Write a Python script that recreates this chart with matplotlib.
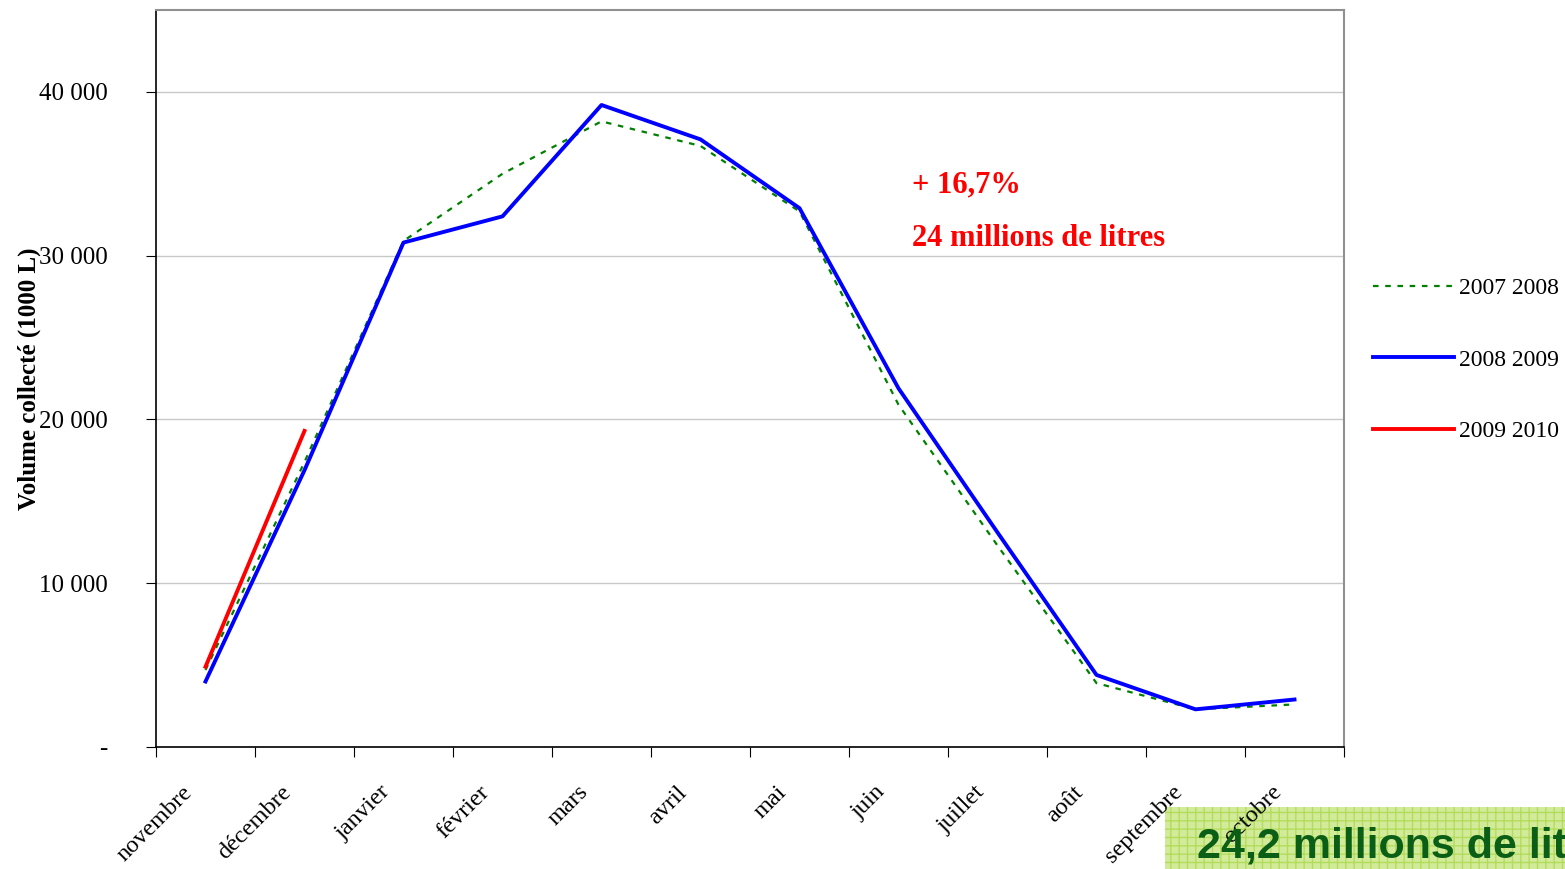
import matplotlib.pyplot as plt
from matplotlib.patches import Rectangle
from matplotlib.ticker import FuncFormatter

months = ["novembre", "décembre", "janvier", "février", "mars", "avril",
          "mai", "juin", "juillet", "août", "septembre", "octobre"]
vol_2007_2008 = [4700, 17400, 30900, 35000, 38200, 36700,
                 32700, 20900, 12300, 3900, 2300, 2600]
vol_2008_2009 = [4000, 16900, 30800, 32400, 39200, 37100,
                 32900, 21900, 13100, 4400, 2300, 2900]
vol_2009_2010 = [4900, 19300]

serif = "Liberation Serif"

fig = plt.figure(figsize=(15.65, 8.69), dpi=100)
ax = fig.add_axes([156 / 1565, 122 / 869, 1188 / 1565, 737 / 869])

x = range(len(months))
ax.plot(x, vol_2007_2008, color="#008000", lw=1.6, ls=(0, (2.5, 3)), label="2007 2008")
ax.plot(x, vol_2008_2009, color="#0000ff", lw=2.8, label="2008 2009")
ax.plot(range(len(vol_2009_2010)), vol_2009_2010, color="#ff0000", lw=2.8, label="2009 2010")

ax.set_xlim(-0.5, len(months) - 0.5)
ax.set_ylim(0, 45000)
ax.set_yticks([0, 10000, 20000, 30000, 40000])
ax.yaxis.set_major_formatter(FuncFormatter(
    lambda v, p: "-" if v == 0 else f"{int(v):,}".replace(",", " ")))
ax.grid(axis="y", color="#c8c8c8", lw=1)
ax.set_axisbelow(True)

# category boundaries carry the ticks; rotated labels end a bit left of the centers
ax.set_xticks([i - 0.5 for i in range(len(months) + 1)])
ax.set_xticklabels([])
ax.set_xticks([i - 0.24 for i in x], minor=True)
ax.set_xticklabels(months, minor=True, rotation=45, ha="right", va="top",
                   rotation_mode="anchor", fontsize=17.5, family=serif)
ax.tick_params(axis="x", which="minor", length=0, pad=25)
ax.tick_params(axis="x", which="major", length=7, direction="out", color="black")
ax.tick_params(axis="y", length=7, direction="out", labelsize=18, pad=28)
for lab in ax.get_yticklabels():
    lab.set_family(serif)

for s in ("top", "right"):
    ax.spines[s].set_color("#909090")
    ax.spines[s].set_linewidth(1.5)
for s in ("left", "bottom"):
    ax.spines[s].set_color("black")
    ax.spines[s].set_linewidth(1.2)

ax.set_ylabel("Volume collecté (1000 L)", fontsize=18, fontweight="bold", family=serif)
ax.yaxis.set_label_coords(-0.097, 0.5)

ax.text(7.14, 34300, "+ 16,7%", color="#ff0000", fontsize=22,
        fontweight="bold", family=serif, va="center")
ax.text(7.14, 31050, "24 millions de litres", color="#ff0000", fontsize=22,
        fontweight="bold", family=serif, va="center")

fig.legend(loc="upper left", bbox_to_anchor=(1352 / 1565, 1 - 256 / 869),
           frameon=False, prop={"family": serif, "size": 17},
           handlelength=3.4, handletextpad=0.25, labelspacing=2.13)

box = Rectangle((1165 / 1565, 0), 400 / 1565, 62 / 869, transform=fig.transFigure,
                facecolor="#d2eb9b", edgecolor="#b4dc5c", hatch="++", lw=0, zorder=-1)
fig.patches.append(box)
fig.text(1197 / 1565, 22 / 869, "24,2 millions de litres", color="#0b5e16",
         fontsize=31, fontweight="bold", family="Liberation Sans", va="center")

fig.savefig("out.png", dpi=100)
